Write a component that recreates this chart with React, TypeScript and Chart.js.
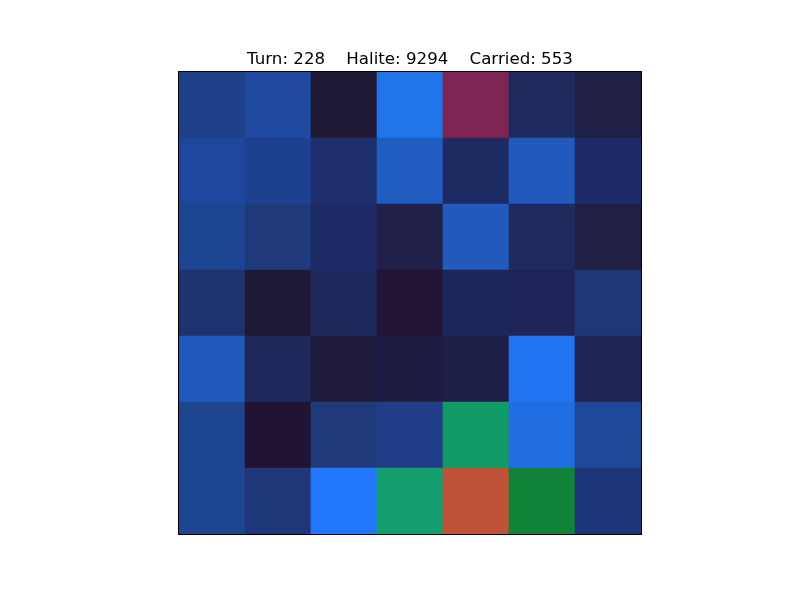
import React, { useEffect, useRef } from "react";
import { Chart, registerables } from "chart.js";

Chart.register(...registerables);

const titleText = "Turn: 228    Halite: 9294    Carried: 553";
const columns = ["0", "1", "2", "3", "4", "5", "6"];

// Cell colours, top row first
const row0 = ["#1e418a", "#1f4a9f", "#201936", "#2173e8", "#7e2452", "#1f2a5e", "#201f45"];
const row1 = ["#1e469d", "#1e4091", "#1f306e", "#215cc0", "#1e2b62", "#2159bd", "#1f2b66"];
const row2 = ["#1e4591", "#1e3a7a", "#1f2b66", "#20204a", "#2159bd", "#1f2b5f", "#201f45"];
const row3 = ["#1e3270", "#1f1a38", "#1f2a5c", "#221434", "#1e2658", "#1f2457", "#1f3677"];
const row4 = ["#2159bd", "#1f2858", "#1e1b3c", "#1e1c42", "#1d1f47", "#2173f0", "#202454"];
const row5 = ["#1e4590", "#211333", "#1f3a7a", "#203d88", "#119a66", "#216ee0", "#1e4797"];
const row6 = ["#1e4590", "#1f3679", "#2277fc", "#139e6e", "#bf5237", "#118339", "#1e3679"];

const rows = [row0, row1, row2, row3, row4, row5, row6];

export default function App() {
  const ref = useRef<HTMLCanvasElement | null>(null);

  useEffect(() => {
    const canvas = ref.current;
    if (!canvas) return;
    // bottom row first in stack order
    const datasets = rows
      .slice()
      .reverse()
      .map((colors, i) => ({
        label: "row" + i,
        data: columns.map(() => 1),
        backgroundColor: colors,
        borderWidth: 0,
        barPercentage: 1,
        categoryPercentage: 1,
      }));

    const frame = {
      id: "frame",
      afterDraw(chart: any) {
        const { ctx, chartArea } = chart;
        const { left, top, right, bottom } = chartArea;
        ctx.save();
        ctx.strokeStyle = "#000";
        ctx.lineWidth = 1;
        ctx.strokeRect(left - 0.5, top - 0.5, right - left + 1, bottom - top + 1);
        ctx.fillStyle = "#000";
        ctx.font = '16.67px "DejaVu Sans"';
        ctx.textAlign = "center";
        ctx.textBaseline = "alphabetic";
        ctx.fillText(titleText, (left + right) / 2, top - 8);
        ctx.restore();
      },
    };

    const chart = new Chart(canvas, {
      type: "bar",
      data: { labels: columns, datasets },
      options: {
        responsive: false,
        animation: false,
        layout: { padding: { left: 179, right: 159, top: 72, bottom: 66 } },
        plugins: { legend: { display: false }, tooltip: { enabled: false }, title: { display: false } },
        scales: {
          x: { stacked: true, display: false, grid: { display: false } },
          y: { stacked: true, display: false, min: 0, max: 7, grid: { display: false } },
        },
      },
      plugins: [frame],
    });
    return () => chart.destroy();
  }, []);

  return (
    <div style={{ position: "fixed", left: 0, top: 0, width: 800, height: 600, background: "#fff" }}>
      <canvas ref={ref} width={800} height={600} style={{ width: 800, height: 600 }} />
    </div>
  );
}
